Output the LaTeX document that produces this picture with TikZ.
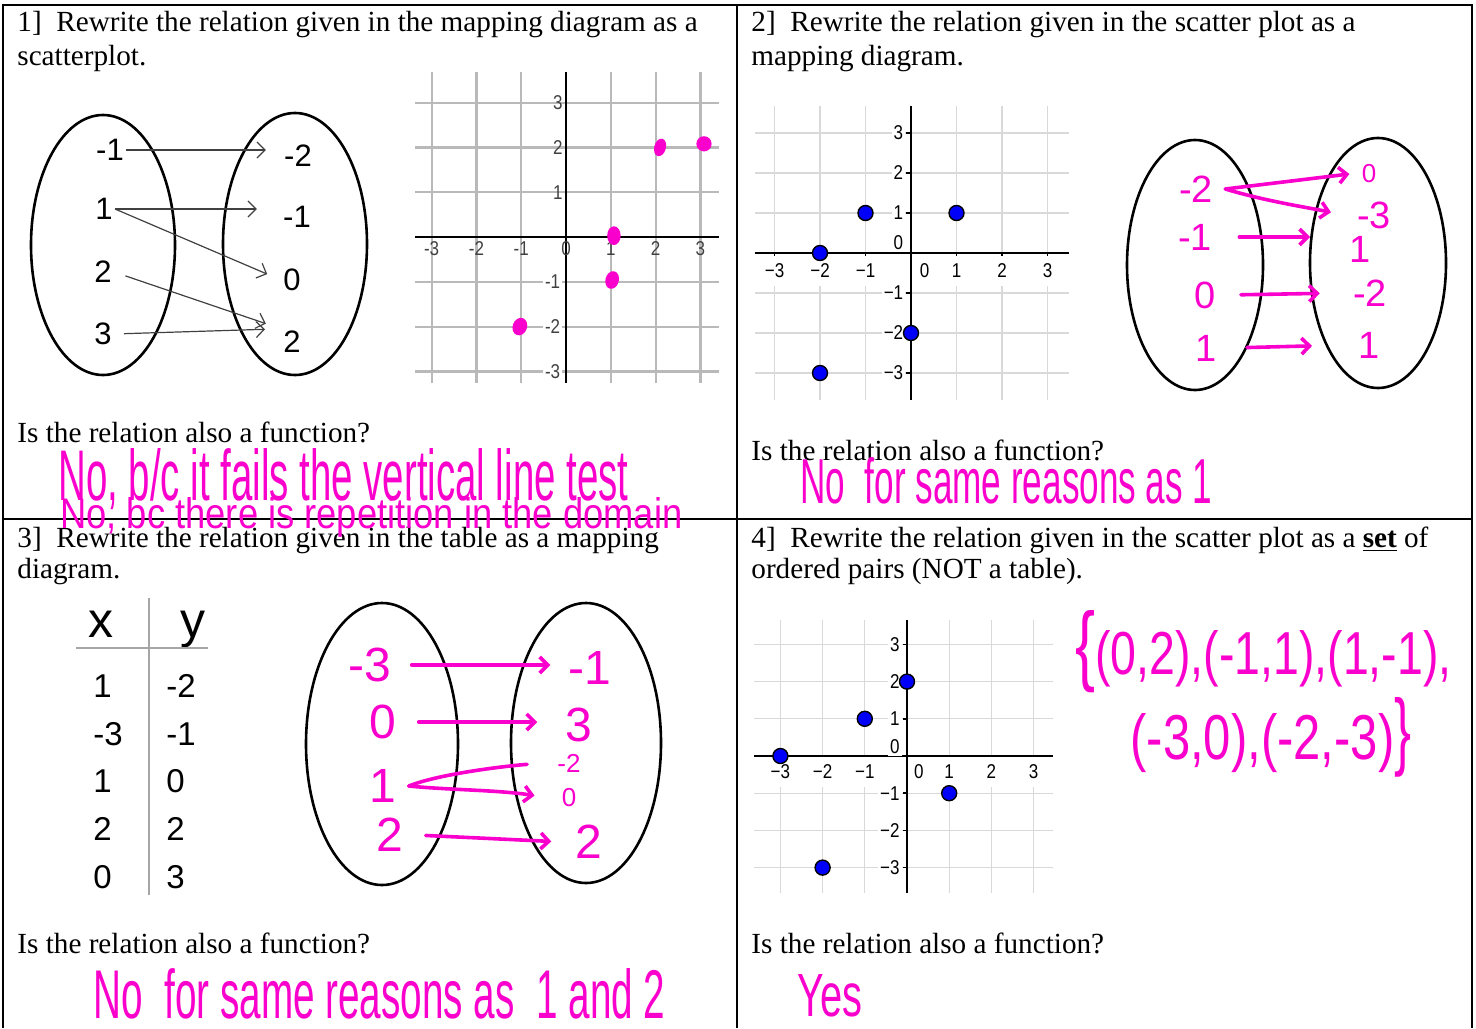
\documentclass[tikz,border=0pt]{standalone}
\usepackage{fontspec}
\setmainfont{Liberation Serif}
\newfontfamily\arialfont{Liberation Sans}
\newfontfamily\ggbfont[FakeStretch=0.85]{Liberation Sans}
\newfontfamily\handfont[FakeStretch=0.7]{Liberation Sans}
\newfontfamily\handdigit{Liberation Sans}
\usepackage{graphicx}
\usetikzlibrary{arrows.meta}
\definecolor{tinta}{RGB}{250,0,205}
\definecolor{azulpunto}{RGB}{0,0,250}
\newcommand{\ajusta}[3]{\resizebox{#1}{#2}{#3}}
\tikzset{
  texto/.style={anchor=base west, inner sep=0pt, font=\fontsize{14.6pt}{17pt}\selectfont},
  numero/.style={inner sep=1pt, font=\arialfont\fontsize{15.5pt}{16pt}\selectfont},
  celda/.style={anchor=base west, inner sep=0pt, font=\arialfont\fontsize{16.5pt}{17pt}\selectfont},
  cabeza/.style={anchor=base, inner sep=0pt, font=\arialfont\fontsize{25pt}{26pt}\selectfont},
  conjunto/.style={draw, line width=1.3pt},
  flechita/.style={-{Straight Barb[length=4pt,width=8pt]}, line width=0.6pt, black!75},
  mano/.style={text=tinta, inner xsep=6pt, inner ysep=1pt, font=\handdigit\fontsize{19pt}{19pt}\selectfont},
  manogrande/.style={mano, font=\handdigit\fontsize{24pt}{24pt}\selectfont},
  manochica/.style={mano, font=\handdigit\fontsize{13pt}{13pt}\selectfont},
  frase/.style={text=tinta, anchor=base west, inner sep=0pt, font=\handfont\fontsize{20pt}{20pt}\selectfont},
  trazo/.style={-{Straight Barb[length=4pt,width=8pt]}, tinta, line width=1.8pt, line cap=round},
  rejilla/.style={gray!30, line width=0.6pt},
  rejillaosc/.style={gray!55, line width=1.1pt},
  eje/.style={black, line width=0.8pt},
  marca/.style={fill=white, inner xsep=1pt, inner ysep=4pt, font=\ggbfont\fontsize{10pt}{10pt}\selectfont},
  marcaosc/.style={inner sep=1pt, text=black!75, font=\ggbfont\fontsize{10pt}{10pt}\selectfont},
  punto/.style={circle, draw=black, fill=azulpunto, line width=0.7pt, minimum size=7.5pt, inner sep=0pt}
}

\begin{document}
\begin{tikzpicture}[x=0.5pt,y=-0.5pt]
\useasboundingbox (0,0) rectangle (1476,1028);

% Marco de la hoja
\draw[line width=1.2pt] (3,1028) -- (3,5) -- (1472,5) -- (1472,1028);
\draw[line width=1.2pt] (737,5) -- (737,1028);
\draw[line width=1.2pt] (3,519) -- (1472,519);

% Enunciados
\node[texto] (tit1) at (17,32) {1]\ \ Rewrite the relation given in the mapping diagram as a};
\node[texto] (tit1b) at (17,65) {scatterplot.};
\node[texto] (tit2) at (751,32) {2]\ \ Rewrite the relation given in the scatter plot as a};
\node[texto] (tit2b) at (751,65) {mapping diagram.};
\node[texto] (tit3) at (17,547) {3]\ \ Rewrite the relation given in the table as a mapping};
\node[texto] (tit3b) at (17,578) {diagram.};
\node[texto] (tit4) at (751,547) {4]\ \ Rewrite the relation given in the scatter plot as a \textbf{\underline{set}} of};
\node[texto] (tit4b) at (751,578) {ordered pairs (NOT a table).};
\node[texto] (preg1) at (17,442) {Is the relation also a function?};
\node[texto] (preg2) at (751,460) {Is the relation also a function?};
\node[texto] (preg3) at (17,953) {Is the relation also a function?};
\node[texto] (preg4) at (751,953) {Is the relation also a function?};

% 1] diagrama de flechas
\draw[conjunto] (103,245) ellipse [x radius=72, y radius=130];
\draw[conjunto] (295,244) ellipse [x radius=72, y radius=131];
\node[numero] (d1) at (110,150) {-1};
\node[numero] (d2) at (104,209) {1};
\node[numero] (d3) at (103,272) {2};
\node[numero] (d4) at (103,334) {3};
\node[numero] (r1) at (298,156) {-2};
\node[numero] (r2) at (297,217) {-1};
\node[numero] (r3) at (292,280) {0};
\node[numero] (r4) at (292,342) {2};
\draw[flechita, shorten >=8pt] (d1.east) -- (r1.west |- d1.east);
\draw[flechita, shorten >=12pt] (d2.east) -- (r2.west |- d2.east);
\draw[flechita, shorten >=7.5pt] (d2.east) -- (r3.west);
\draw[flechita, shorten <=6pt, shorten >=8pt] (d3.east) -- (r4.north west);
\draw[flechita, shorten <=5pt, shorten >=8pt] (d4.east) -- (r4.north west);

% 1] cuadricula con puntos a mano
\begin{scope}[shift={(566,237)}, x=22.4pt, y=22.4pt]
\foreach \i in {-3,...,3} \draw[rejillaosc] (\i,-3.26) -- (\i,3.68);
\foreach \j in {-3,...,3} \draw[rejillaosc] (-3.37,\j) -- (3.42,\j);
\draw[black, line width=1.2pt] (-3.37,0) -- (3.42,0);
\draw[black, line width=1.2pt] (0,-3.26) -- (0,3.68);
\foreach \i in {-3,...,3} \node[marcaosc] (ax\i) at (\i,-0.25) {\i};
\foreach \j in {1,2,3} \node[marcaosc] (ay\j) at (-0.18,\j) {\j};
\foreach \j in {-1,-2,-3} \node[marcaosc, fill=white] (ay\j) at (-0.3,\j) {\j};
\fill[tinta, rotate around={-15:(2.1,2)}] (2.1,2) ellipse [x radius=0.13, y radius=0.2];
\fill[tinta] (3.08,2.08) ellipse [x radius=0.17, y radius=0.17];
\fill[tinta] (1.07,0.03) ellipse [x radius=0.15, y radius=0.21];
\fill[tinta, rotate around={-15:(1.03,-0.96)}] (1.03,-0.96) ellipse [x radius=0.15, y radius=0.2];
\fill[tinta, rotate around={-20:(-1.03,-2)}] (-1.03,-2) ellipse [x radius=0.16, y radius=0.2];
\end{scope}

% 2] cuadricula de puntos azules
\begin{scope}[shift={(911,253)}, x=22.75pt, y=20pt]
\foreach \i in {-3,...,3} \draw[rejilla] (\i,-3.68) -- (\i,3.68);
\foreach \j in {-3,...,3} \draw[rejilla] (-3.43,\j) -- (3.47,\j);
\draw[eje] (-3.43,0) -- (3.47,0);
\draw[eje] (0,-3.68) -- (0,3.68);
\foreach \i in {-3,-2,-1,1,2,3} {
  \draw[eje] (\i,0) -- (\i,-0.12);
  \draw[eje] (0,\i) -- (-0.1,\i);
}
\foreach \i/\t in {-3/−3,-2/−2,-1/−1,1/1,2/2,3/3} \node[marca] (bx\i) at (\i,-0.45) {\t};
\node[marca] (bx0) at (0.3,-0.45) {0};
\foreach \j/\t in {3/3,2/2,1/1,-1/−1,-2/−2,-3/−3} \node[marca, anchor=east, inner ysep=1pt] (by\j) at (-0.12,\j) {\t};
\node[marca, anchor=east, inner ysep=1pt] (by0) at (-0.12,0.25) {0};
\node[punto] (pb1) at (-2,0) {};
\node[punto] (pb2) at (-1,1) {};
\node[punto] (pb3) at (1,1) {};
\node[punto] (pb4) at (0,-2) {};
\node[punto] (pb5) at (-2,-3) {};
\end{scope}

% 2] diagrama a mano
\draw[conjunto] (1195,265) ellipse [x radius=68, y radius=125];
\draw[conjunto] (1378,263) ellipse [x radius=68, y radius=125];
\node[mano] (a1) at (1196,189) {-2};
\node[mano] (a2) at (1195,237) {-1};
\node[mano] (a3) at (1205,295) {0};
\node[mano] (a4) at (1206,348) {1};
\node[manochica] (b1) at (1369,174) {0};
\node[mano] (b2) at (1374,215) {-3};
\node[mano] (b5) at (1360,249) {1};
\node[mano] (b3) at (1370,293) {-2};
\node[mano] (b4) at (1369,345) {1};
\draw[trazo] (a1.east) -- (b1.west);
\draw[trazo, shorten >=7pt] (a1.east) .. controls +(40,12) and +(-40,-8) .. (b2.west);
\draw[trazo, shorten <=7.5pt, shorten >=13.5pt] (a2.east) -- (b5.west |- a2.east);
\draw[trazo, shorten <=6.5pt, shorten >=10.5pt] (a3.east) -- (b3.west);
\draw[trazo, shorten <=9pt, shorten >=17pt] (a4.east) -- (b4.west);

% 3] tabla
\node[cabeza] (tx) at (101,637) {x};
\node[cabeza] (ty) at (193,637) {y};
\draw[gray!70, line width=1.2pt] (76,648) -- (208,648);
\draw[gray!70, line width=1.2pt] (149,598) -- (149,895);
\node[celda] (x1) at (93,697) {1};   \node[celda] (y1) at (166,697) {-2};
\node[celda] (x2) at (93,745) {-3};  \node[celda] (y2) at (166,745) {-1};
\node[celda] (x3) at (93,792) {1};   \node[celda] (y3) at (166,792) {0};
\node[celda] (x4) at (93,840) {2};   \node[celda] (y4) at (166,840) {2};
\node[celda] (x5) at (93,888) {0};   \node[celda] (y5) at (166,888) {3};

% 3] diagrama a mano
\draw[conjunto] (382,744) ellipse [x radius=76, y radius=141];
\draw[conjunto] (586,743) ellipse [x radius=75, y radius=140];
\node[manogrande] (c1) at (370,665) {-3};
\node[manogrande] (c2) at (383,722) {0};
\node[manogrande] (c3) at (383,786) {1};
\node[manogrande] (c4) at (390,835) {2};
\node[manogrande] (e1) at (590,668) {-1};
\node[manogrande] (e2) at (579,725) {3};
\node[manochica] (e3) at (569,763) {-2};
\node[manochica] (e4) at (569,798) {0};
\node[manogrande] (e5) at (589,842) {2};
\draw[trazo, shorten <=4pt, shorten >=3pt] (c1.east) -- (e1.west |- c1.east);
\draw[trazo, shorten <=5pt, shorten >=8pt] (c2.east) -- (e2.west |- c2.east);
\draw[tinta, line width=1.8pt, line cap=round, shorten >=9pt] (c3.east) .. controls +(30,-12) and +(-40,3) .. (e3.west);
\draw[trazo, shorten >=7.5pt] (c3.east) .. controls +(40,4) and +(-50,-8) .. (e4.west);
\draw[trazo, shorten <=5pt, shorten >=6pt] (c4.east) -- (e5.west);

% 4] cuadricula de puntos azules
\begin{scope}[shift={(907,756)}, x=21.1pt, y=18.6pt]
\foreach \i in {-3,...,3} \draw[rejilla] (\i,-3.68) -- (\i,3.66);
\foreach \j in {-3,...,3} \draw[rejilla] (-3.63,\j) -- (3.46,\j);
\draw[eje] (-3.63,0) -- (3.46,0);
\draw[eje] (0,-3.68) -- (0,3.66);
\foreach \i in {-3,-2,-1,1,2,3} {
  \draw[eje] (\i,0) -- (\i,-0.12);
  \draw[eje] (0,\i) -- (-0.1,\i);
}
\foreach \i/\t in {-3/−3,-2/−2,-1/−1,1/1,2/2,3/3} \node[marca] (cx\i) at (\i,-0.42) {\t};
\node[marca] (cx0) at (0.28,-0.42) {0};
\foreach \j/\t in {3/3,2/2,1/1,-1/−1,-2/−2,-3/−3} \node[marca, anchor=east, inner ysep=1pt] (cy\j) at (-0.12,\j) {\t};
\node[marca, anchor=east, inner ysep=1pt] (cy0) at (-0.12,0.24) {0};
\node[punto] (pc1) at (-3,0) {};
\node[punto] (pc2) at (-1,1) {};
\node[punto] (pc3) at (0,2) {};
\node[punto] (pc4) at (1,-1) {};
\node[punto] (pc5) at (-2,-3) {};
\end{scope}

% Respuestas a mano
\node[frase] (resp1) at (58,500) {\ajusta{285pt}{26pt}{No, b/c it fails the vertical line test}};
\node[frase] (resp1b) at (60,528) {\ajusta{311pt}{15.5pt}{No, bc there is repetition in the domain}};
\node[frase] (resp2) at (800,503) {\ajusta{206pt}{23pt}{No\ \ for same reasons as 1}};
\node[frase] (resp3) at (93,1018) {\ajusta{286pt}{25pt}{No\ \ for same reasons as\ \ 1 and 2}};
\node[frase] (resp4) at (797,1016) {\ajusta{32.5pt}{21pt}{Yes}};
\node[frase] (pares1) at (1075,674) {\ajusta{10pt}{32pt}{\{}\ajusta{178pt}{22pt}{(0,2),(-1,1),(1,-1),}};
\node[frase] (pares2) at (1130,759) {\ajusta{132pt}{23pt}{(-3,0),(-2,-3)}\ajusta{8.5pt}{31pt}{\}}};

\end{tikzpicture}
\end{document}
